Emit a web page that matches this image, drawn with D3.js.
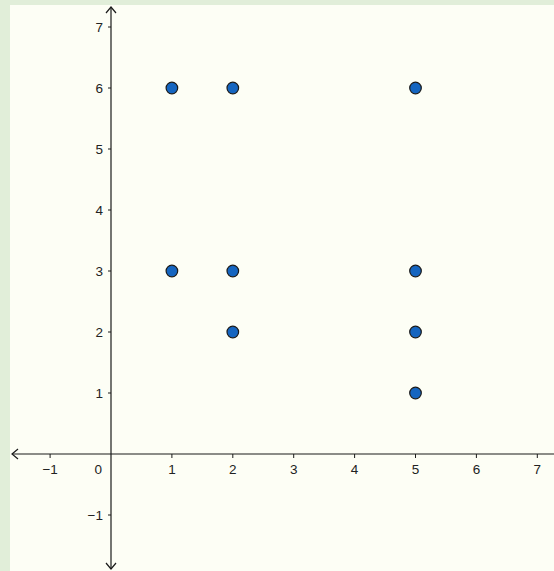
<!DOCTYPE html>
<html><head><meta charset="utf-8">
<script src="https://cdn.jsdelivr.net/npm/d3@7"></script>
<style>html,body{margin:0;padding:0;background:#e1eed9;}svg{display:block;}</style>
</head><body>
<svg id="c" width="554" height="571"></svg>
<script>
const xs = [1, 2, 5, 1, 2, 5, 2, 5, 5];
const ys = [6, 6, 6, 3, 3, 3, 2, 2, 1];
const xTicks = [-1, 1, 2, 3, 4, 5, 6, 7];
const yTicks = [-1, 1, 2, 3, 4, 5, 6, 7];

const svg = d3.select("#c");
const W = 554, H = 571;
svg.append("rect").attr("x", 10).attr("y", 5).attr("width", W - 10).attr("height", H - 5).attr("fill", "#fdfef5");

const x = d3.scaleLinear().domain([0, 7]).range([111, 537.3]);
const y = d3.scaleLinear().domain([0, 7]).range([454, 27]);
const fmt = v => v < 0 ? "\u2212" + Math.abs(v) : String(v);
const font = "Liberation Sans, Arial, sans-serif";
const fs = 13.5;

const ax = "#1a1a1a";
// x axis
svg.append("line").attr("x1", 12).attr("x2", W).attr("y1", y(0)).attr("y2", y(0)).attr("stroke", ax).attr("stroke-width", 1.2);
svg.append("path").attr("d", `M${12+6},${y(0)-5} L12,${y(0)} L${12+6},${y(0)+5}`).attr("fill", "none").attr("stroke", ax).attr("stroke-width", 1.2);
// y axis
svg.append("line").attr("x1", x(0)).attr("x2", x(0)).attr("y1", 7).attr("y2", 569).attr("stroke", ax).attr("stroke-width", 1.2);
svg.append("path").attr("d", `M${x(0)-5},${7+6} L${x(0)},7 L${x(0)+5},${7+6}`).attr("fill", "none").attr("stroke", ax).attr("stroke-width", 1.2);
svg.append("path").attr("d", `M${x(0)-5},${569-6} L${x(0)},569 L${x(0)+5},${569-6}`).attr("fill", "none").attr("stroke", ax).attr("stroke-width", 1.2);

const xg = svg.append("g");
xTicks.forEach(t => {
  xg.append("line").attr("x1", x(t)).attr("x2", x(t)).attr("y1", y(0)).attr("y2", y(0) + 4).attr("stroke", ax);
  xg.append("text").attr("x", x(t)).attr("y", y(0) + 19.5).attr("text-anchor", "middle")
    .attr("font-family", font).attr("font-size", fs).attr("fill", "#222").text(fmt(t));
});
const yg = svg.append("g");
yTicks.forEach(t => {
  yg.append("line").attr("x1", x(0) - 3).attr("x2", x(0)).attr("y1", y(t)).attr("y2", y(t)).attr("stroke", ax);
  yg.append("text").attr("x", x(0) - 8).attr("y", y(t) + 5).attr("text-anchor", "end")
    .attr("font-family", font).attr("font-size", fs).attr("fill", "#222").text(fmt(t));
});
svg.append("text").attr("x", x(0) - 9).attr("y", y(0) + 19.5).attr("text-anchor", "end")
  .attr("font-family", font).attr("font-size", fs).attr("fill", "#222").text("0");

svg.append("g").selectAll("circle").data(xs.map((v, i) => [v, ys[i]])).join("circle")
  .attr("cx", d => x(d[0])).attr("cy", d => y(d[1])).attr("r", 5.8)
  .attr("fill", "#1565c0").attr("stroke", "#1a1a1a").attr("stroke-width", 1.2);
</script>
</body></html>
